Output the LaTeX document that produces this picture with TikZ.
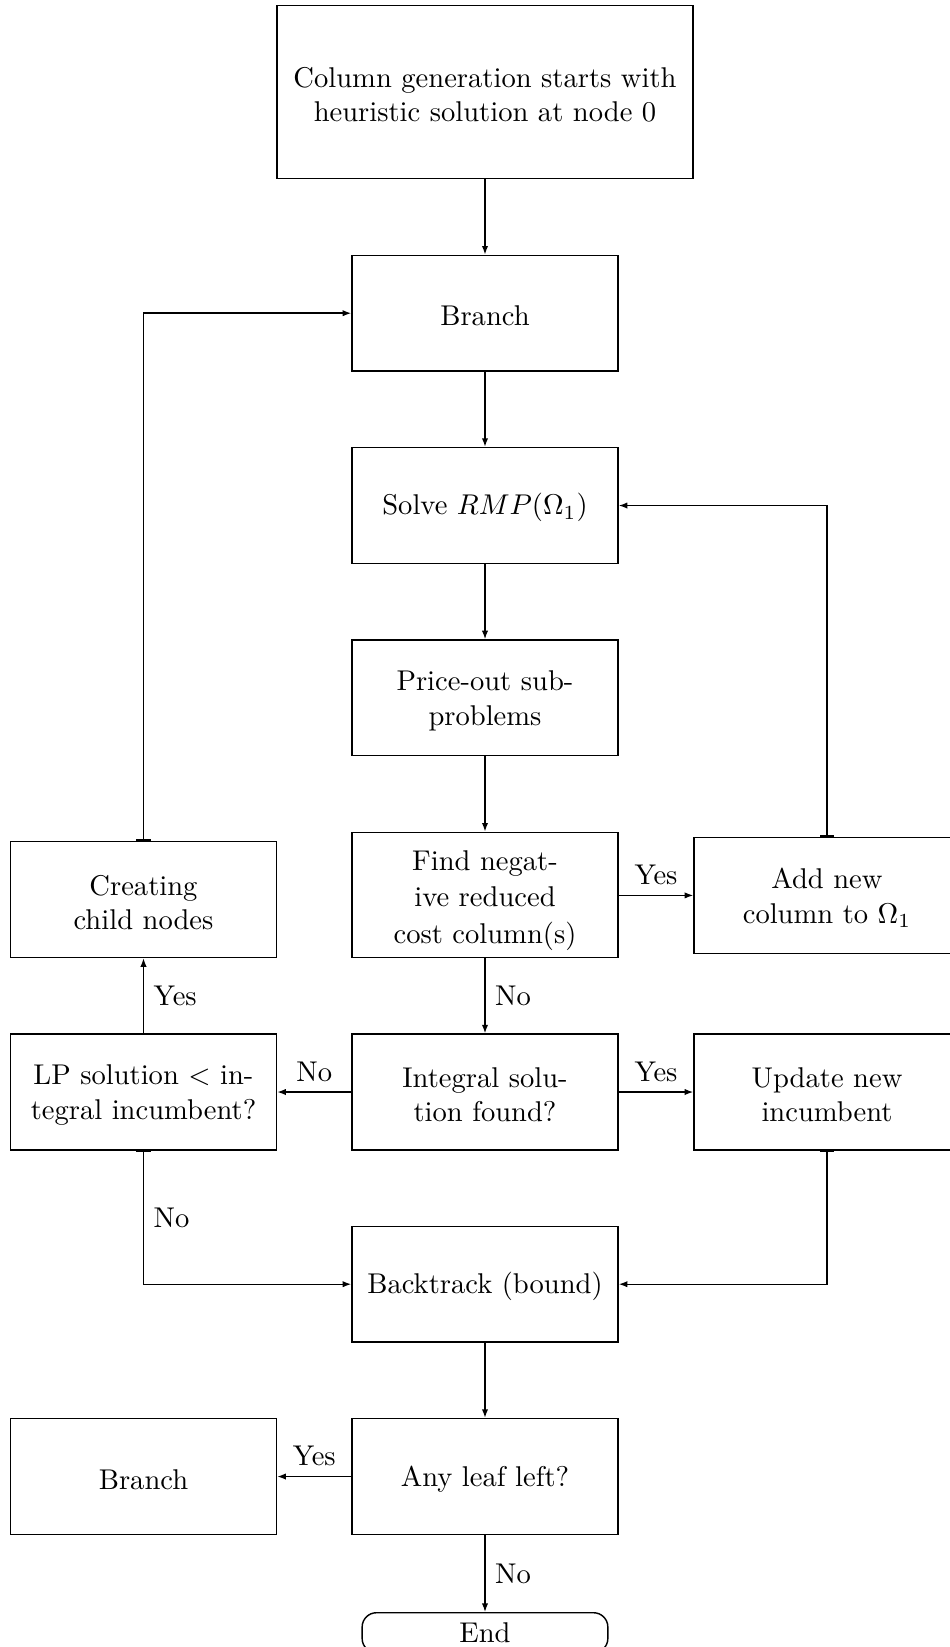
\documentclass[tikz,border=0pt]{standalone}
\usetikzlibrary{arrows.meta}
\newcommand{\mystrut}{\rule{0pt}{9pt}}
\begin{document}
\begin{tikzpicture}[x=0.35pt,y=-0.35pt,
  box/.style={draw,line width=0.5pt,minimum width=93.1pt,minimum height=40.5pt,align=center,inner sep=3pt},
  conn/.style={line width=0.5pt,-{Latex[length=3pt,width=2.2pt]}},
  tconn/.style={line width=0.5pt,{Bar[width=5pt,line width=0.6pt]}-{Latex[length=3pt,width=2.2pt]}}]
\useasboundingbox (0,0) rectangle (950,1647);
\node[box,minimum width=145.6pt,minimum height=60.7pt] (top) at (485,92) {\mystrut Column generation starts with\\heuristic solution at node 0};
\node[box] (branch) at (485,313.2) {\mystrut Branch};
\node[box] (solve) at (485,505.5) {\mystrut Solve $RMP(\Omega_1)$};
\node[box] (price) at (485,697.8) {\mystrut Price-out sub-\\problems};
\node[box,minimum height=43.75pt,inner ysep=1.5pt] (find) at (485,894.8) {\rule{0pt}{10.8pt}Find negat-\\[0.8pt]ive reduced\\[0.8pt]cost column(s)};
\node[box] (add) at (827,895.4) {\mystrut Add new\\column to $\Omega_1$};
\node[box] (child) at (143.5,899.6) {\mystrut Creating\\child nodes};
\node[box] (lp) at (143.5,1092) {\mystrut LP solution $<$ in-\\tegral incumbent?};
\node[box] (integral) at (485,1092) {\mystrut Integral solu-\\tion found?};
\node[box] (update) at (827,1092) {\mystrut Update new\\incumbent};
\node[box] (back) at (485,1284.2) {\mystrut Backtrack (bound)};
\node[box] (leaf) at (485,1476.5) {\mystrut Any leaf left?};
\node[box] (branchb) at (143.5,1476.5) {\mystrut Branch};
\node[draw,line width=0.5pt,rounded corners=5pt,minimum width=86pt,minimum height=14pt,anchor=north,inner sep=3pt] (end) at (485,1612) {End};

\draw[conn] (top) -- (branch);
\draw[conn] (branch) -- (solve);
\draw[conn] (solve) -- (price);
\draw[conn] (price) -- (find);
\draw[conn] (find.east |- add.west) -- node[above] {Yes} (add.west);
\draw[tconn] (add.north) |- (solve.east);
\draw[conn] (find) -- node[right] {No} (integral);
\draw[conn] (integral) -- node[above] {No} (lp);
\draw[conn] (integral) -- node[above] {Yes} (update);
\draw[conn] (lp) -- node[right] {Yes} (child);
\draw[tconn] (child.north) |- (branch.west);
\draw[tconn] (lp.south) |- node[pos=0.25,right] {No} (back.west);
\draw[tconn] (update.south) |- (back.east);
\draw[conn] (back) -- (leaf);
\draw[conn] (leaf) -- node[above] {Yes} (branchb);
\draw[conn] (leaf) -- node[right] {No} (end);
\end{tikzpicture}
\end{document}
